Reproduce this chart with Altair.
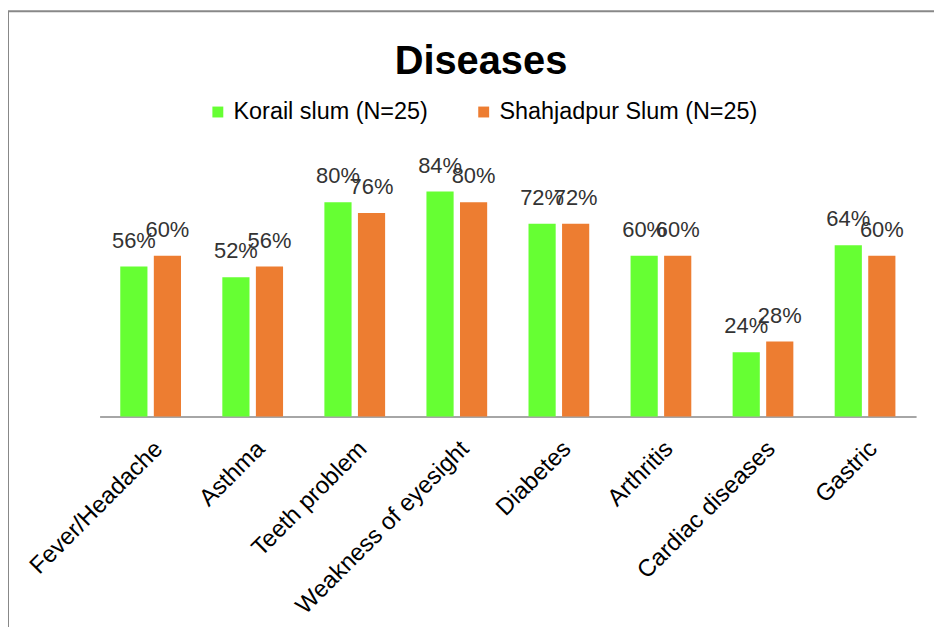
import altair as alt
import pandas as pd

diseases = ["Fever/Headache", "Asthma", "Teeth problem", "Weakness of eyesight",
            "Diabetes", "Arthritis", "Cardiac diseases", "Gastric"]
korail = [56, 52, 80, 84, 72, 60, 24, 64]
shahjadpur = [60, 56, 76, 80, 72, 60, 28, 60]
series = ["Korail slum (N=25)", "Shahjadpur Slum (N=25)"]
colors = ["#66FF33", "#ED7D31"]

rows = []
for i, d in enumerate(diseases):
    rows.append({"disease": d, "series": series[0], "value": korail[i] / 100, "order": 0})
    rows.append({"disease": d, "series": series[1], "value": shahjadpur[i] / 100, "order": 1})
df = pd.DataFrame(rows)
df["label"] = (df["value"] * 100).round().astype(int).astype(str) + "%"

FONT = "Liberation Sans"

x = alt.X("disease:N", sort=diseases, title=None,
          scale=alt.Scale(paddingInner=0.405, paddingOuter=0.2025),
          axis=alt.Axis(labelAngle=-45, labelFontSize=24, labelFont=FONT,
                        labelColor="#000000", ticks=False, labelPadding=20,
                        domainColor="#888888", domainWidth=1.5,
                        labelLimit=400))
xo = alt.XOffset("series:N", sort=series,
                 scale=alt.Scale(paddingInner=0.19, paddingOuter=0))
y = alt.Y("value:Q", scale=alt.Scale(domain=[0, 1]), axis=None)

bars = alt.Chart(df).mark_bar().encode(
    x=x, xOffset=xo, y=y,
    color=alt.Color("series:N", sort=series,
                    scale=alt.Scale(domain=series, range=colors),
                    legend=alt.Legend(title=None, orient="none", direction="horizontal",
                                      legendX=107, legendY=-49,
                                      symbolType="square", symbolSize=120,
                                      symbolStrokeWidth=0,
                                      labelFont=FONT, labelFontSize=23.5,
                                      labelColor="#000000", columnPadding=44,
                                      symbolOffset=0, labelOffset=4,
                                      labelLimit=400)),
)

labels = alt.Chart(df).mark_text(font=FONT, fontSize=22, color="#333333",
                                 baseline="alphabetic", dy=-19).encode(
    x=x, xOffset=xo, y=y, text="label:N"
)

border_top = alt.Chart(pd.DataFrame({"a": [0]})).mark_rule(color="#888888", strokeWidth=2).encode(
    x=alt.value(-92), x2=alt.value(900), y=alt.value(-138)
)
border_left = alt.Chart(pd.DataFrame({"a": [0]})).mark_rule(color="#888888", strokeWidth=2).encode(
    x=alt.value(-92), y=alt.value(-138), y2=alt.value(500)
)

chart = alt.layer(border_top, border_left, bars, labels).properties(
    width=820, height=269,
    autosize=alt.AutoSizeParams(type="none"),
    padding={"left": 92, "top": 140, "right": 18, "bottom": 210},
    title=alt.TitleParams("Diseases", font=FONT, fontSize=40, fontWeight="bold",
                          color="#000000", anchor="middle", frame="group",
                          dx=-27, dy=72, offset=0),
).configure_view(stroke=None)

chart.save("out.html", embed_options={"renderer": "svg", "actions": False})
